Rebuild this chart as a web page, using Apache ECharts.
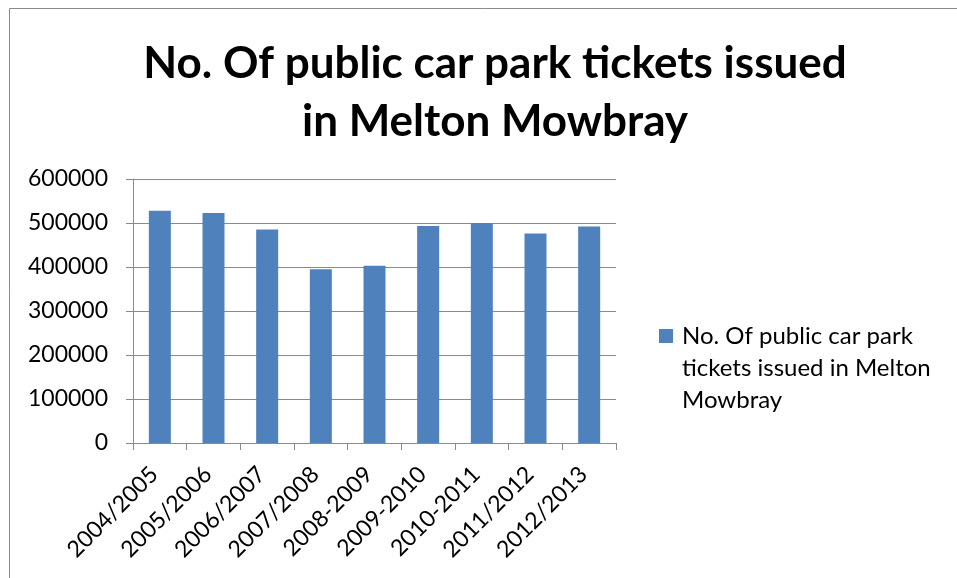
<!DOCTYPE html>
<html>
<head>
<meta charset="utf-8">
<script src="https://cdn.jsdelivr.net/npm/echarts@6/dist/echarts.min.js"></script>
<style>
html,body{margin:0;padding:0;background:#fff;}
#chart{width:957px;height:578px;}
</style>
</head>
<body>
<div id="chart"></div>
<script>
const categories = ['2004/2005','2005/2006','2006/2007','2007/2008','2008-2009','2009-2010','2010-2011','2011/2012','2012/2013'];
const values = [528000, 523000, 485000, 395000, 403000, 493000, 500000, 476000, 492000];
const seriesName = 'No. Of public car park tickets issued in Melton Mowbray';
const titleText = 'No. Of public car park tickets issued\nin Melton Mowbray';
const legendText = '\n\nNo. Of public car park\ntickets issued in Melton\nMowbray';
const yTicks = [0, 100000, 200000, 300000, 400000, 500000, 600000];

const FONT = 'Lato';
const chart = echarts.init(document.getElementById('chart'));
chart.setOption({
  animation: false,
  backgroundColor: '#fff',
  graphic: [{
    type: 'rect', silent: true,
    shape: {x: 9.5, y: 8.5, width: 1000, height: 1000},
    style: {fill: 'none', stroke: '#8a8a8a', lineWidth: 1}
  }],
  title: {
    text: titleText,
    left: 490, top: 30, textAlign: 'center',
    textStyle: {fontFamily: FONT, fontWeight: 'bold', fontSize: 44, lineHeight: 58, color: '#000'}
  },
  legend: {
    orient: 'vertical',
    left: 659, top: 256,
    padding: 0,
    itemWidth: 14, itemHeight: 14, itemGap: 0,
    icon: 'rect',
    formatter: () => legendText,
    textStyle: {fontFamily: FONT, fontSize: 24, lineHeight: 32, color: '#000', padding: [0, 0, 0, 4]},
    data: [seriesName]
  },
  grid: {left: 133, right: 341, top: 179, bottom: 135, containLabel: false},
  xAxis: {
    type: 'category',
    data: categories,
    axisLine: {lineStyle: {color: '#8a8a8a', width: 1}},
    axisTick: {show: true, length: 7, lineStyle: {color: '#8a8a8a'}},
    axisLabel: {rotate: 45, fontFamily: FONT, fontSize: 23, color: '#000', margin: 22, padding: [0, 8, 0, 0], interval: 0}
  },
  yAxis: {
    type: 'value',
    min: yTicks[0], max: yTicks[yTicks.length - 1], interval: 100000,
    axisLine: {show: true, lineStyle: {color: '#8a8a8a', width: 1}},
    axisTick: {show: true, length: 7, lineStyle: {color: '#8a8a8a'}},
    splitLine: {show: true, lineStyle: {color: '#8a8a8a', width: 1}},
    axisLabel: {fontFamily: FONT, fontSize: 23, color: '#000', margin: 25, formatter: v => String(v)}
  },
  series: [{
    name: seriesName,
    type: 'bar',
    data: values,
    barWidth: '41%',
    itemStyle: {color: '#4F81BD'}
  }]
});
</script>
</body>
</html>
